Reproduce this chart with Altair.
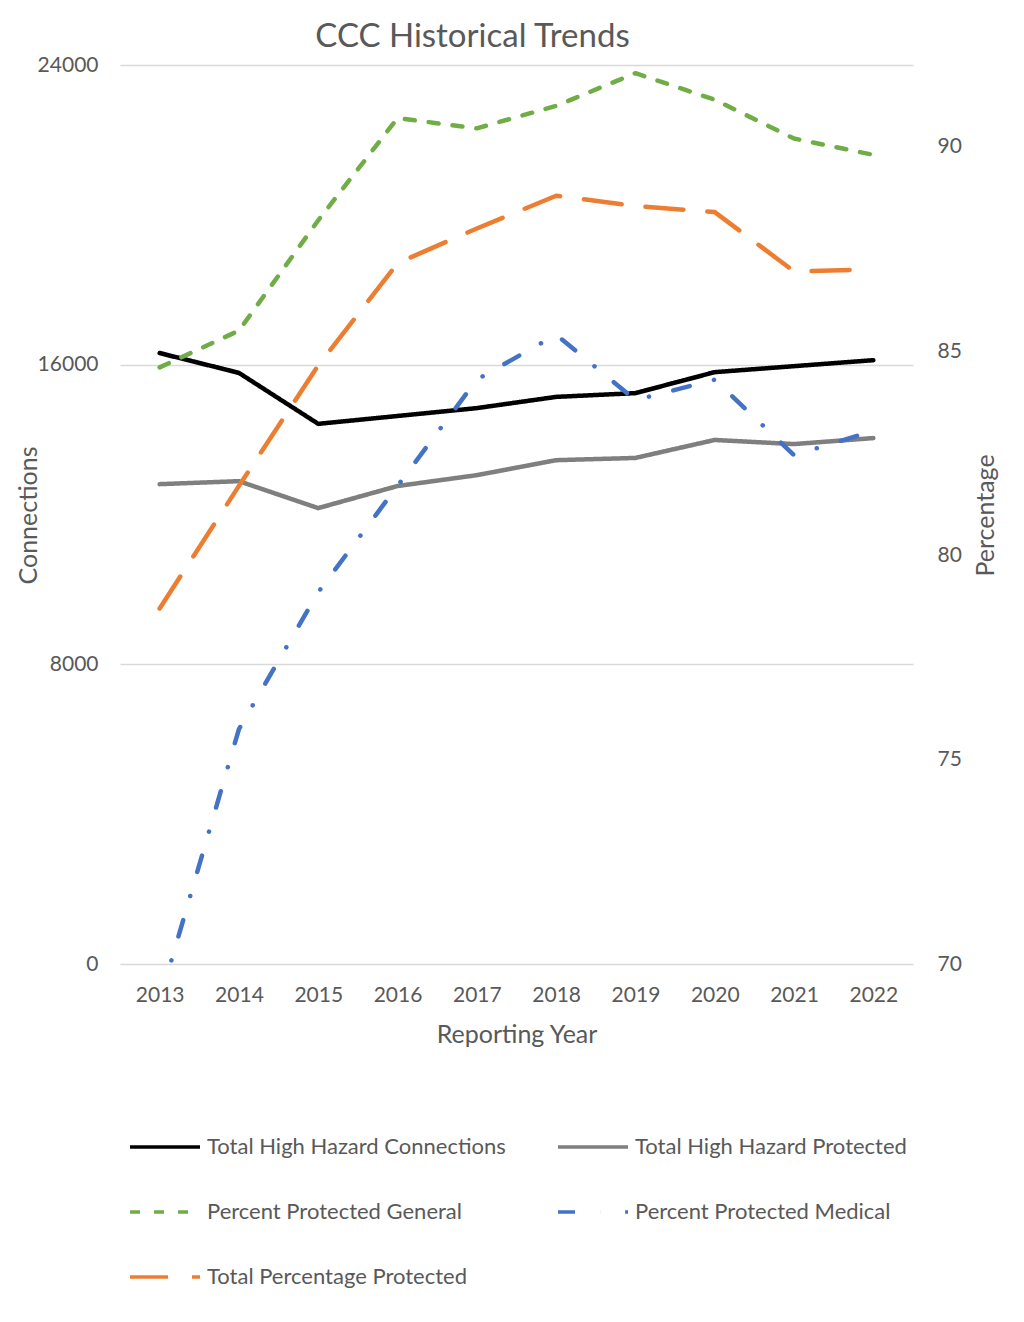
import altair as alt
import pandas as pd

years = ["2013", "2014", "2015", "2016", "2017", "2018", "2019", "2020", "2021", "2022"]
total_connections = [16310, 15780, 14420, 14630, 14840, 15140, 15240, 15800, 15960, 16120]
total_protected = [12810, 12890, 12170, 12760, 13050, 13450, 13510, 13990, 13880, 14040]
pct_general = [84.6, 85.5, 88.2, 90.7, 90.45, 91.0, 91.8, 91.15, 90.2, 89.8]
pct_medical = [69.1, 75.75, 79.1, 81.7, 84.3, 85.4, 83.8, 84.3, 82.45, 83.05]
pct_total = [78.7, 81.7, 84.65, 87.15, 88.0, 88.8, 88.55, 88.4, 86.95, 87.0]

series_names = [
    "Total High Hazard Connections",
    "Total High Hazard Protected",
    "Percent Protected General",
    "Percent Protected Medical",
    "Total Percentage Protected",
]
series_colors = ["#000000", "#7f7f7f", "#70ad47", "#4472c4", "#ed7d31"]
series_dashes = [[1, 0], [1, 0], [10, 14], [17, 25, 0.1, 25], [38, 24]]

left_ticks = [0, 8000, 16000, 24000]
right_ticks = [70, 75, 80, 85, 90]

rows_left = []
for name, vals in [(series_names[0], total_connections), (series_names[1], total_protected)]:
    for y, v in zip(years, vals):
        rows_left.append({"year": y, "value": v, "series": name})
rows_right = []
for name, vals in [(series_names[2], pct_general), (series_names[3], pct_medical), (series_names[4], pct_total)]:
    for y, v in zip(years, vals):
        rows_right.append({"year": y, "value": v, "series": name})

df_left = pd.DataFrame(rows_left)
df_right = pd.DataFrame(rows_right)

FONT = "Lato"
TXT = "#595959"

legend = alt.Legend(
    title=None, orient="none", legendX=8, legendY=1072, columns=2, direction="horizontal",
    symbolType="stroke", symbolSize=4900, symbolStrokeWidth=3.5,
    labelFont=FONT, labelFontSize=22, labelColor=TXT, labelLimit=600,
    columnPadding=50, rowPadding=43, clipHeight=20, labelOffset=5, padding=0,
)

color = alt.Color("series:N", scale=alt.Scale(domain=series_names, range=series_colors), legend=legend)
dash = alt.StrokeDash("series:N", scale=alt.Scale(domain=series_names, range=series_dashes), legend=legend)

x_enc = alt.X(
    "year:O",
    scale=alt.Scale(type="point", padding=0.5),
    axis=alt.Axis(
        labelAngle=0, domain=False, ticks=False, grid=False, labelPadding=20,
        labelFont=FONT, labelFontSize=21, labelColor=TXT,
        title="Reporting Year", titleFont=FONT, titleFontSize=25, titleColor=TXT,
        titleFontWeight="normal", titleY=78, titleBaseline="alphabetic",
    ),
)

left = alt.Chart(df_left).mark_line(strokeWidth=4.5, strokeCap="round", strokeJoin="round").encode(
    x=x_enc,
    y=alt.Y(
        "value:Q",
        scale=alt.Scale(domain=[0, 24000], nice=False, zero=False),
        axis=alt.Axis(
            values=left_ticks, format="d", grid=True, gridColor="#d9d9d9", gridWidth=1.3,
            domain=False, ticks=False, labelPadding=22,
            labelFont=FONT, labelFontSize=21, labelColor=TXT,
            title="Connections", titleFont=FONT, titleFontSize=25, titleColor=TXT,
            titleFontWeight="normal", titleX=-92, titleY=450, titleAngle=270,
            titleAlign="center", titleBaseline="middle",
        ),
    ),
    color=color,
    strokeDash=dash,
)

right = alt.Chart(df_right).mark_line(strokeWidth=4.5, strokeCap="round", strokeJoin="round", clip=True).encode(
    x=x_enc,
    y=alt.Y(
        "value:Q",
        scale=alt.Scale(domain=[70, 92], nice=False, zero=False),
        axis=alt.Axis(
            orient="right", values=right_ticks, grid=False,
            domain=False, ticks=False, labelPadding=24,
            labelFont=FONT, labelFontSize=21, labelColor=TXT,
            title="Percentage", titleFont=FONT, titleFontSize=25, titleColor=TXT,
            titleFontWeight="normal", titleX=72, titleY=450, titleAngle=270,
            titleAlign="center", titleBaseline="middle",
        ),
    ),
    color=color,
    strokeDash=dash,
)

chart = (
    alt.layer(left, right)
    .resolve_scale(y="independent")
    .properties(
        width=793, height=899,
        background="white",
        autosize=alt.AutoSizeParams(type="none"),
        padding={"left": 112, "top": 57, "right": 103, "bottom": 340},
        title=alt.TitleParams(
            "CCC Historical Trends", font=FONT, fontSize=33, color=TXT, fontWeight="normal",
            anchor="middle", dx=-44, dy=31, offset=5, baseline="alphabetic",
        ),
    )
    .configure_view(stroke=None, strokeWidth=0)
)

chart.save("out.html", embed_options={"renderer": "svg", "actions": False})
